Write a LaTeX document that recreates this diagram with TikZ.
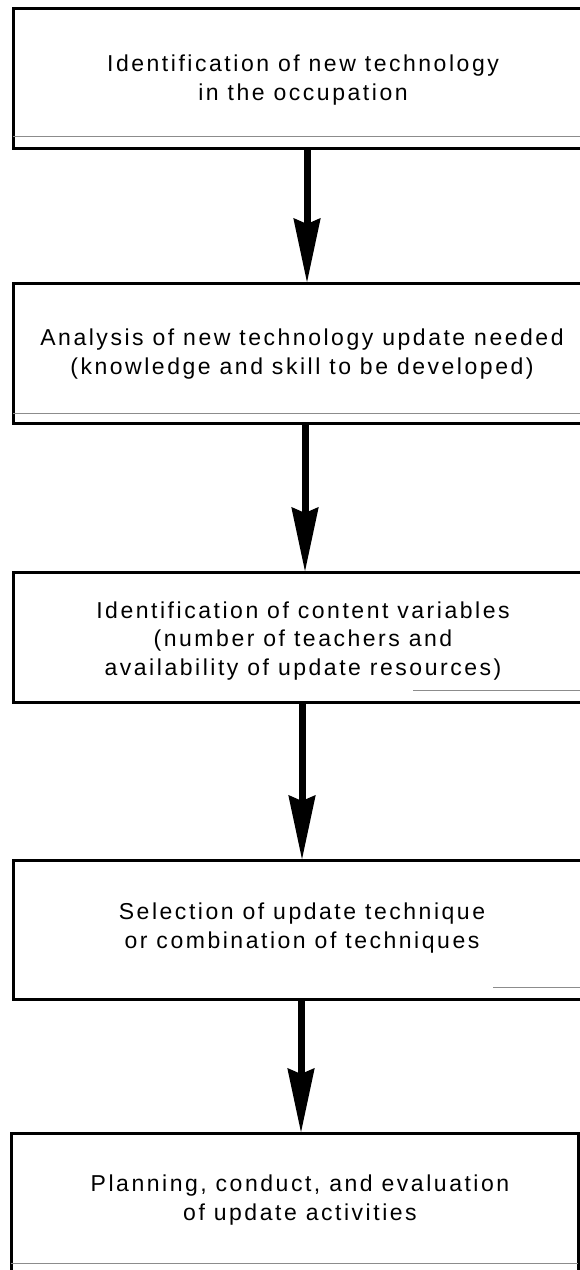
\documentclass[tikz,border=0pt]{standalone}
\usepackage{fontspec}
\newfontfamily\flowfont{Liberation Sans}[LetterSpace=11]
\usetikzlibrary{arrows.meta}
\begin{document}
\begin{tikzpicture}[x=1pt,y=-1pt,
  stepbox/.style={draw=black, line width=3pt, rectangle, inner sep=0pt, outer sep=0pt, anchor=north west},
  steptext/.style={align=center, inner sep=0pt, font=\flowfont\fontsize{23}{28.5}\selectfont},
  flowarrow/.style={draw=black, line width=7pt, -{Stealth[length=64pt, width=26pt, inset=5pt]}},
  scanline/.style={draw=black!45, line width=1pt}
]
\useasboundingbox (0,0) rectangle (579,1270);

% the five stages
\node[stepbox, minimum width=580pt, minimum height=140pt] (b1) at (13,8) {};
\node[stepbox, minimum width=580pt, minimum height=140pt] (b2) at (13,283) {};
\node[stepbox, minimum width=580pt, minimum height=130pt] (b3) at (13,572) {};
\node[stepbox, minimum width=580pt, minimum height=139pt] (b4) at (13,860) {};
\node[stepbox, minimum width=567pt, minimum height=141pt] (b5) at (11,1133) {};

% faint inner rules near the lower edges
\draw[scanline] ([yshift=12pt]b1.south west) -- ([yshift=12pt]b1.south east);
\draw[scanline] ([yshift=10pt]b2.south west) -- ([yshift=10pt]b2.south east);
\draw[scanline] ([xshift=400pt,yshift=12pt]b3.south west) -- ([yshift=12pt]b3.south east);
\draw[scanline] ([xshift=480pt,yshift=12pt]b4.south west) -- ([yshift=12pt]b4.south east);
\draw[scanline] ([yshift=11pt]b5.south west) -- ([yshift=11pt]b5.south east);

% stage texts
\node[steptext] (t1) at (303,80) {Identification of new technology\\in the occupation};
\node[steptext] (t2) at (302,354) {Analysis of new technology update needed\\(knowledge and skill to be developed)};
\node[steptext] (t3) at (303,641) {Identification of content variables\\(number of teachers and\\availability of update resources)};
\node[steptext] (t4) at (302,928) {Selection of update technique\\or combination of techniques};
\node[steptext] (t5) at (300,1200) {Planning, conduct, and evaluation\\of update activities};

% connectors
\draw[flowarrow] ([xshift=4pt]b1.south) -- ([xshift=4pt]b2.north);
\draw[flowarrow] ([xshift=2pt]b2.south) -- ([xshift=2pt]b3.north);
\draw[flowarrow] ([xshift=-1pt]b3.south) -- ([xshift=-1pt]b4.north);
\draw[flowarrow] ([xshift=-2pt]b4.south) -- ([xshift=-2pt]b4.south |- b5.north);
\end{tikzpicture}
\end{document}
